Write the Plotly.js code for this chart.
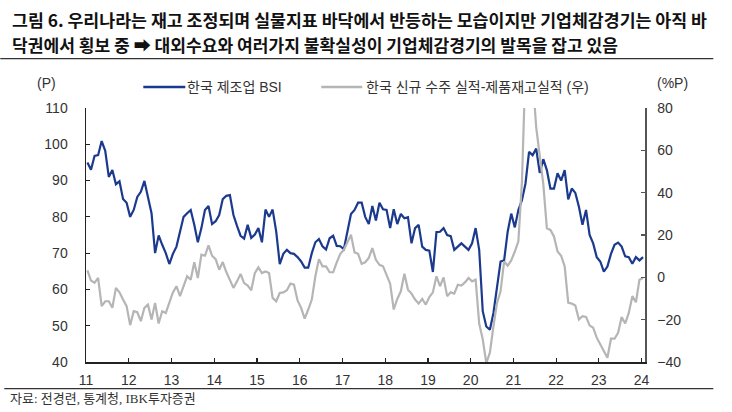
<!DOCTYPE html>
<html><head><meta charset="utf-8">
<script src="https://cdn.plot.ly/plotly-3.0.1.min.js"></script>
<style>html,body{margin:0;padding:0;background:#fff}</style>
</head><body><div id="chart" style="width:732px;height:412px"></div>
<script>
// Monthly data, Jan 2011 .. Jan 2024
const startYear = 2011;
const bsiLabel = '한국 제조업 BSI';
const gapLabel = '한국 신규 수주 실적-제품재고실적 (우)';
const titleLine1 = '그림 6. 우리나라는 재고 조정되며 실물지표 바닥에서 반등하는 모습이지만 기업체감경기는 아직 바';
const titleLine2 = '닥권에서 횡보 중 ➡ 대외수요와 여러가지 불확실성이 기업체감경기의 발목을 잡고 있음';
const sourceText = '자료: 전경련, 통계청, IBK투자증권';
const bsi = [
  95, 93, 96.8, 97, 100.9, 98.2, 91, 92.9, 89, 89.8, 84.9, 83.9,
  80, 81.9, 85.5, 86.9, 89.9, 85.1, 81, 70, 74.9, 72.3, 70, 67,
  69.8, 71.8, 75.7, 80, 81, 81.9, 77.8, 73, 76.9, 81.9, 83, 78,
  78.8, 80.5, 84.9, 85.8, 86, 80.5, 77.5, 74.8, 74, 77.8, 74.2, 75.1,
  76.9, 73, 82, 80, 82, 76, 67, 69.8, 70.9, 70, 69.8, 68.9,
  67.7, 66, 66, 70, 73, 73.9, 71.9, 71, 74.1, 74.8, 72, 71.9,
  71.1, 76, 80.8, 81.9, 83.9, 83.9, 80, 78, 83, 79, 83.9, 82.1,
  81.9, 76.9, 82.1, 78, 80.8, 79.6, 79.9, 72.7, 76.9, 77.8, 71.8, 70.9,
  70.7, 64.8, 75.8, 75.9, 76.9, 75, 74.7, 70.9, 71.8, 72.7, 71.8, 70.9,
  72.7, 76.9, 70.9, 54, 49.8, 48.9, 53.5, 60.8, 67.7, 68, 75.9, 80.9,
  77.1, 81.9, 84.6, 89.2, 97.9, 97, 98.8, 92.1, 95.9, 92.9, 87.8, 87.8,
  92, 90, 92.9, 84.8, 87.8, 86.6, 82.8, 77.8, 81.9, 75, 72.7, 68.9,
  67.7, 64.9, 66.3, 69.8, 72.3, 72.9, 71.8, 69.1, 68.9, 67.1, 68.9, 68,
  68.9
];
const orderInvGap = [
  3.3, -1.5, -2.6, -0.3, -13.6, -11.3, -11.3, -14.4, -5, -7.1, -10.5, -13.6,
  -22.6, -16, -16.5, -20.7, -14.4, -12.9, -19.9, -12.1, -21.8, -16, -16.8, -12.4,
  -7.1, -4.2, -8.9, -4.2, 0.5, -1.1, 7.1, -0.3, 10.7, 10.2, 15.1, 10.2,
  8.6, 3.6, 7.2, 2.5, -1.1, -5, -1.9, 1.6, -2.7, -3.9, -6.1, 2.0,
  4.7, 2, 2.8, 2, -9.7, -11.3, -7.4, -7.1, -6.1, -3, -3.5, -10.9,
  -14.4, -19.5, -15.2, -10.5, 0.5, 8.6, 5.2, 5.2, 2.4, 2.4, 7.1, 11.1,
  13, 16.2, 20.1, 11.8, 11.1, 6.4, 7.1, 9.2, 13.8, 8.3, 5.9, 5.2,
  1.3, -3, -15.2, -10.2, -6.6, 1.7, -5.8, -7.7, -10.5, -12.4, -10.2, -12.9,
  -9.3, -7.1, 0.5, -4.2, 0, -8.9, -7.1, -7.7, -3.5, -3.9, -2.4, -0.3,
  -1.9, -1.1, -21.8, -29.3, -40.5, -35.6, -23.1, -12.1, -6.6, 7.5, 5.5, 8,
  12.2, 17, 45, 100, 110, 95, 71, 58, 44, 23.2, 22.4, 19.3,
  12.2, 10.2, 5.2, -12, -12.4, -13.3, -19.9, -18.4, -18.7, -22.7, -23.8, -28.5,
  -31.7, -34.4, -38, -29, -29, -26.2, -18.7, -21.8, -16.8, -8.9, -11.8, -1.1,
  -0.3
];
const yearTicks = [2011,2012,2013,2014,2015,2016,2017,2018,2019,2020,2021,2022,2023,2024];
const yearLabels = ['11','12','13','14','15','16','17','18','19','20','21','22','23','24'];

const xs = bsi.map((_, i) => startYear + (i + 0.4) / 12);

const W = 732, H = 412, L = 85.7, R = 644.7, T = 107.7, B = 362.3;
const px = x => (x - L) / (R - L);
const py = y => (B - y) / (B - T);

const BLUE = '#1b3a8e', GREY = '#b5b5b5';
const sans = 'Liberation Sans, Noto Sans CJK KR, sans-serif';
const cjk = 'Noto Sans CJK KR, sans-serif';

const traces = [
  {x: xs, y: orderInvGap, yaxis: 'y2', type: 'scatter', mode: 'lines', name: gapLabel,
   line: {color: GREY, width: 2.2}, showlegend: false},
  {x: xs, y: bsi, yaxis: 'y', type: 'scatter', mode: 'lines', name: bsiLabel,
   line: {color: BLUE, width: 2.2}, showlegend: false}
];

function ann(text, x, y, opts) {
  return Object.assign({text, x: px(x), y: py(y), xref: 'paper', yref: 'paper',
    showarrow: false, xanchor: 'left', yanchor: 'middle',
    font: {family: sans, size: 14, color: '#333'}}, opts || {});
}
function hline(x0, x1, y, color, width) {
  return {type: 'line', xref: 'paper', yref: 'paper', x0: px(x0), x1: px(x1), y0: py(y), y1: py(y),
    line: {color, width}};
}

const titleFont = {family: cjk, size: 17, color: '#111', weight: 700};

const layout = {
  width: W, height: H,
  margin: {l: L, r: W - R, t: T, b: H - B, pad: 0},
  paper_bgcolor: '#fff', plot_bgcolor: '#fff',
  showlegend: false,
  xaxis: {range: [2011, 2024 + 3.4/42.7], tickvals: yearTicks, ticktext: yearLabels,
    showgrid: false, zeroline: false, showline: true, linecolor: '#222', linewidth: 1.5,
    ticks: 'inside', ticklen: 4, tickcolor: '#222', tickwidth: 1.2,
    tickfont: {family: sans, size: 14, color: '#333'}, ticklabelstandoff: 5},
  yaxis: {range: [40, 110], dtick: 10, showgrid: false, zeroline: false, showline: true,
    linecolor: '#222', linewidth: 1.5, ticks: 'inside', ticklen: 4, tickcolor: '#222', tickwidth: 1.2,
    tickfont: {family: sans, size: 14, color: '#333'}, ticklabelstandoff: 14},
  yaxis2: {range: [-40, 80], dtick: 20, overlaying: 'y', side: 'right', showgrid: false, zeroline: false,
    showline: true, linecolor: '#555', linewidth: 1.5, ticks: 'inside', ticklen: 4, tickcolor: '#555', tickwidth: 1.2,
    tickfont: {family: sans, size: 14, color: '#333'}, ticklabelstandoff: 8},
  shapes: [
    hline(0, 713, 58.3, '#333', 1.2),
    hline(143, 185, 86.7, BLUE, 2.5),
    hline(321, 362, 86.7, GREY, 2.5),
    hline(4, 713, 389, '#333', 1.2)
  ],
  annotations: [
    ann(titleLine1, 10, 18.8, {font: titleFont, align: 'left'}),
    ann(titleLine2, 10, 44.5, {font: titleFont, align: 'left'}),
    ann(bsiLabel, 185, 86.7),
    ann(gapLabel, 364, 86.7),
    ann('(P)', 46, 82.5, {xanchor: 'center'}),
    ann('(%P)', 672, 82.5, {xanchor: 'center'}),
    ann(sourceText, 8, 399,
      {font: {family: 'Liberation Serif, Noto Sans CJK KR, serif', size: 13, color: '#333'}})
  ]
};

// Title line widths measured on the reference (px)
const titleWidths = [695, 606];

Plotly.newPlot('chart', traces, layout, {staticPlot: true, displayModeBar: false}).then(() => {
  titleWidths.forEach((w, idx) => {
    const t = document.querySelector('.annotation[data-index="' + idx + '"] text.annotation-text');
    if (t) {
      t.setAttribute('textLength', w);
      t.setAttribute('lengthAdjust', 'spacingAndGlyphs');
    }
  });
});
</script>
</body></html>
